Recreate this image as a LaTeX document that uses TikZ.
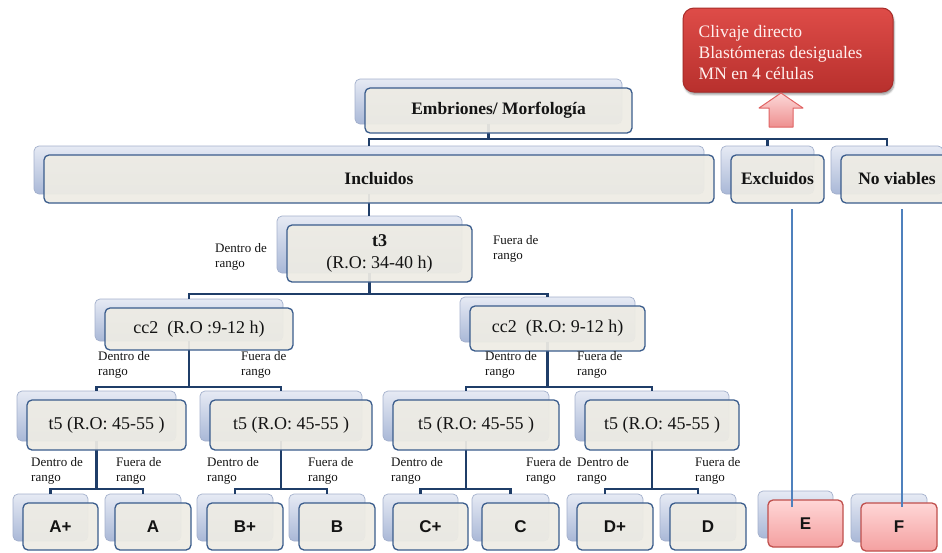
\documentclass[tikz,border=0pt]{standalone}
\usepackage{fontspec}
\setmainfont{Liberation Serif}
\newfontfamily\leaffont{Liberation Sans}
\usetikzlibrary{shadows.blur}

\definecolor{linkcol}{HTML}{1F3D68}
\definecolor{edgecol}{HTML}{3A5C8C}
\definecolor{facecol}{HTML}{EEECE4}
\definecolor{backtop}{HTML}{E6EAF4}
\definecolor{backbot}{HTML}{A9B8D7}
\definecolor{backedge}{HTML}{A3B0CC}
\definecolor{inkcol}{HTML}{141414}
\definecolor{notetop}{HTML}{DE4C48}
\definecolor{notebot}{HTML}{B8302D}
\definecolor{noteedge}{HTML}{A82C29}
\definecolor{notetext}{HTML}{FFF0EE}
\definecolor{pinktop}{HTML}{FFD6D6}
\definecolor{pinkbot}{HTML}{F4A0A0}
\definecolor{pinkedge}{HTML}{C0504D}
\definecolor{arrowtop}{HTML}{FCD8D8}
\definecolor{arrowbot}{HTML}{EE9090}
\definecolor{arrowedge}{HTML}{E06464}
\definecolor{dropcol}{HTML}{4F81BD}

\pgfdeclarelayer{under}
\pgfdeclarelayer{links}
\pgfsetlayers{under,links,main}

\tikzset{
  backbox/.style={rounded corners=5pt, top color=backtop, bottom color=backbot,
    draw=backedge, line width=0.7pt, inner sep=0pt},
  frontbox/.style={rounded corners=5pt, fill=facecol, fill opacity=0.93, text opacity=1,
    draw=edgecol, line width=1.3pt, inner sep=0pt, align=center, text=inkcol,
    font=\fontsize{18}{22}\selectfont},
  headtext/.style={font=\bfseries\fontsize{17.5}{21}\selectfont},
  leaftext/.style={font=\leaffont\bfseries\fontsize{17}{20}\selectfont},
  pinkbox/.style={top color=pinktop, bottom color=pinkbot, fill opacity=1, draw=pinkedge},
  link/.style={draw=linkcol, line width=2.7pt},
  dropline/.style={draw=dropcol, line width=2pt},
  lbl/.style={anchor=north west, inner sep=0pt, align=left, text=inkcol,
    font=\fontsize{13}{15.5}\selectfont},
  notebox/.style={rounded corners=11pt, top color=notetop, bottom color=notebot,
    draw=noteedge, line width=1pt, minimum width=210pt, minimum height=84pt,
    text width=178pt, inner xsep=16pt, align=left, text=notetext,
    font=\fontsize{17.5}{21}\selectfont, blur shadow={shadow xshift=1pt, shadow yshift=-2.5pt}},
  uparrow/.style={top color=arrowtop, bottom color=arrowbot, draw=arrowedge,
    line width=1pt, line join=round},
}

% a box with its offset backing card; the backing card carries the links
\newcommand\twobox[7][]{%
  \begin{pgfonlayer}{under}
    \node[backbox, minimum width=#5pt, minimum height=#6pt] (#2B) at (#3-10,#4-9) {};
  \end{pgfonlayer}
  \node[frontbox, minimum width=#5pt, minimum height=#6pt, #1] (#2) at (#3,#4) {#7};
}

\begin{document}
\begin{tikzpicture}[x=1pt,y=-1pt]
\useasboundingbox (0,0) rectangle (942,552);

% note box and arrow
\node[notebox] (note) at (788,50) {};
\node[anchor=north west, inner sep=0pt, align=left, text=notetext,
  font=\fontsize{17.5}{21}\selectfont] (notetxt) at ([xshift=16pt, yshift=-18pt]note.north west)
  {Clivaje directo\\Blastómeras desiguales\\MN en 4 células};
\draw[uparrow] (781,93) -- (803,108) -- (793,108) -- (793,127) -- (769,127) -- (769,108) -- (759,108) -- cycle;

% level 0 and 1
\twobox[headtext]{emb}{498.5}{110.5}{267}{45}{Embriones/ Morfología}
\twobox[headtext]{inc}{379}{179}{670}{48}{Incluidos}
\twobox[headtext]{exc}{777.5}{179}{93}{48}{Excluidos}
\twobox[headtext]{nov}{897}{179}{112}{48}{No viables}

% timing checks
\twobox{t3}{379.5}{253.5}{185}{57}{\textbf{t3}\\(R.O: 34-40 h)}
\twobox{ccl}{199}{329}{188}{42}{cc2\ \ (R.O :9-12 h)}
\twobox{ccr}{557.5}{328.5}{175}{45}{cc2\ \ (R.O: 9-12 h)}
\twobox{tfa}{106.5}{425}{159}{50}{t5 (R.O: 45-55 )}
\twobox{tfb}{291}{425}{162}{50}{t5 (R.O: 45-55 )}
\twobox{tfc}{476}{425}{166}{50}{t5 (R.O: 45-55 )}
\twobox{tfd}{662}{425}{154}{50}{t5 (R.O: 45-55 )}

% categories
\twobox[leaftext]{ap}{60.5}{526.5}{75}{47}{A+}
\twobox[leaftext]{a}{153}{526.5}{76}{47}{A}
\twobox[leaftext]{bp}{245}{526.5}{76}{47}{B+}
\twobox[leaftext]{b}{337}{526.5}{76}{47}{B}
\twobox[leaftext]{cp}{430.5}{526.5}{75}{47}{C+}
\twobox[leaftext]{c}{520.5}{526.5}{77}{47}{C}
\twobox[leaftext]{dp}{615}{526.5}{76}{47}{D+}
\twobox[leaftext]{d}{708}{526.5}{76}{47}{D}
\twobox[leaftext,pinkbox]{E}{805.5}{523.5}{75}{47}{E}
\twobox[leaftext,pinkbox]{F}{899}{527}{76}{48}{F}

% tree links
\coordinate (busA) at (0,139);
\coordinate (busB) at (0,294);
\coordinate (busC) at (0,387);
\coordinate (busD) at (0,489);
\begin{pgfonlayer}{links}
  \draw[link] (embB.south) -- (embB.south |- busA) -| (incB.north);
  \draw[link] (embB.south |- busA) -| (excB.north);
  \draw[link] (embB.south |- busA) -| (novB.north);
  \draw[link] (incB.south) -- (incB.south |- t3B.north);
  \draw[link] (t3B.south) -- (t3B.south |- busB) -| (cclB.north);
  \draw[link] (t3B.south |- busB) -| (ccrB.north);
  \draw[link] (cclB.south) -- (cclB.south |- busC) -| (tfaB.north);
  \draw[link] (cclB.south |- busC) -| (tfbB.north);
  \draw[link] (ccrB.south) -- (ccrB.south |- busC) -| (tfcB.north);
  \draw[link] (ccrB.south |- busC) -| (tfdB.north);
  \draw[link] (tfaB.south) -- (tfaB.south |- busD) -| (apB.north);
  \draw[link] (tfaB.south |- busD) -| (aB.north);
  \draw[link] (tfbB.south) -- (tfbB.south |- busD) -| (bpB.north);
  \draw[link] (tfbB.south |- busD) -| (bB.north);
  \draw[link] (tfcB.south) -- (tfcB.south |- busD) -| (cpB.north);
  \draw[link] (tfcB.south |- busD) -| (cB.north);
  \draw[link] (tfdB.south) -- (tfdB.south |- busD) -| (dpB.north);
  \draw[link] (tfdB.south |- busD) -| (dB.north);
\end{pgfonlayer}

% direct drops to E and F
\coordinate (excOut) at (792,209);
\coordinate (Ein) at (792,507);
\coordinate (novOut) at (902,209);
\coordinate (Fin) at (902,507);
\draw[dropline] (excOut) -- (Ein);
\draw[dropline] (novOut) -- (Fin);

% branch labels
\node[lbl] (l1) at (215,243) {Dentro de\\rango};
\node[lbl] (l2) at (493,235) {Fuera de\\rango};
\node[lbl] (l3) at (98,351) {Dentro de\\rango};
\node[lbl] (l4) at (241,351) {Fuera de\\rango};
\node[lbl] (l5) at (485,351) {Dentro de\\rango};
\node[lbl] (l6) at (577,351) {Fuera de\\rango};
\node[lbl] (l7) at (31,457) {Dentro de\\rango};
\node[lbl] (l8) at (116,457) {Fuera de\\rango};
\node[lbl] (l9) at (207,457) {Dentro de\\rango};
\node[lbl] (l10) at (308,457) {Fuera de\\rango};
\node[lbl] (l11) at (391,457) {Dentro de\\rango};
\node[lbl] (l12) at (526,457) {Fuera de\\rango};
\node[lbl] (l13) at (577,457) {Dentro de\\rango};
\node[lbl] (l14) at (695,457) {Fuera de\\rango};
\end{tikzpicture}
\end{document}
